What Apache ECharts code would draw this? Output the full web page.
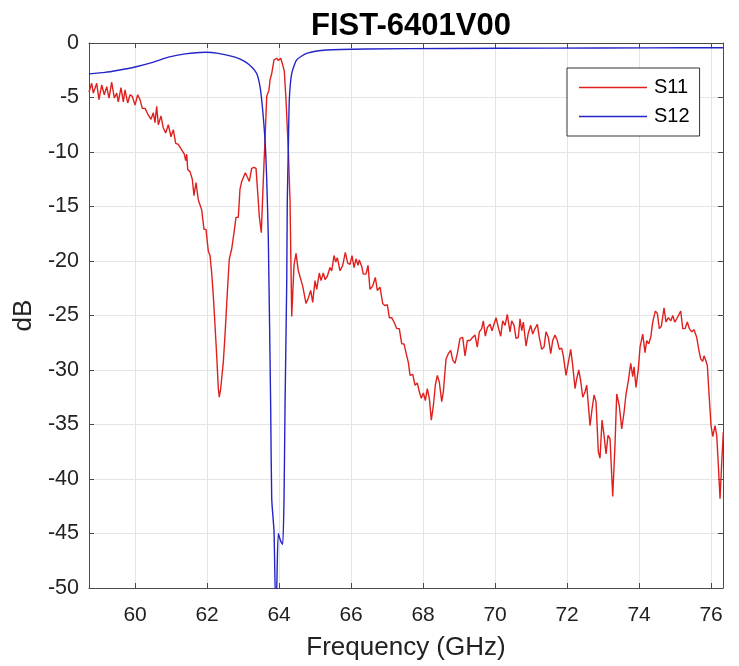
<!DOCTYPE html>
<html>
<head>
<meta charset="utf-8">
<script src="https://cdn.jsdelivr.net/npm/echarts@6/dist/echarts.min.js"></script>
<style>
html,body{margin:0;padding:0;background:#fff;}
#chart{width:739px;height:666px;}
</style>
</head>
<body>
<div id="chart"></div>
<script>
var xTicks = [60, 62, 64, 66, 68, 70, 72, 74, 76];
var freqS11 = [58.72,58.795,58.84,58.934,58.998,59.073,59.145,59.212,59.276,59.351,59.423,59.489,59.534,59.609,59.673,59.72,59.795,59.859,59.923,59.998,60.073,60.137,60.2,60.276,60.367,60.442,60.506,60.553,60.6,60.645,60.72,60.784,60.85,60.923,60.998,61.062,61.128,61.2,61.295,61.367,61.406,61.434,61.462,61.526,61.589,61.637,61.692,61.756,61.85,61.914,61.97,62.034,62.081,62.128,62.173,62.22,62.267,62.312,62.339,62.378,62.414,62.45,62.498,62.562,62.617,62.684,62.748,62.803,62.867,62.914,62.962,63.006,63.062,63.117,63.173,63.239,63.303,63.359,63.406,63.45,63.506,63.545,63.581,63.609,63.656,63.72,63.748,63.795,63.859,63.934,63.978,64.045,64.1,64.145,64.192,64.256,64.303,64.351,64.414,64.47,64.534,64.581,64.656,64.748,64.812,64.878,64.934,64.998,65.045,65.117,65.164,65.228,65.276,65.339,65.414,65.462,65.526,65.573,65.617,65.692,65.767,65.839,65.906,65.97,66.026,66.081,66.137,66.192,66.228,66.295,66.339,66.414,66.47,66.525,66.6,66.673,66.728,66.803,66.878,66.942,67.006,67.062,67.128,67.192,67.267,67.339,67.406,67.47,67.545,67.59,67.637,67.712,67.776,67.84,67.895,67.95,68.006,68.062,68.117,68.173,68.228,68.284,68.34,68.395,68.45,68.517,68.562,68.637,68.7,68.767,68.823,68.887,68.95,69.026,69.1,69.164,69.228,69.303,69.378,69.442,69.506,69.562,69.628,69.673,69.728,69.784,69.859,69.914,69.97,70.026,70.09,70.156,70.211,70.276,70.339,70.414,70.462,70.526,70.581,70.645,70.692,70.739,70.784,70.859,70.923,70.989,71.045,71.109,71.173,71.228,71.295,71.359,71.414,71.478,71.545,71.6,71.664,71.728,71.784,71.85,71.895,71.97,72.034,72.1,72.156,72.22,72.267,72.323,72.378,72.434,72.498,72.545,72.59,72.637,72.692,72.748,72.803,72.867,72.914,72.97,73.026,73.081,73.137,73.192,73.267,73.331,73.378,73.45,73.517,73.581,73.637,73.7,73.767,73.823,73.859,73.914,73.978,74.026,74.1,74.164,74.212,74.267,74.323,74.378,74.45,74.506,74.562,74.617,74.692,74.748,74.812,74.878,74.934,74.989,75.045,75.1,75.156,75.212,75.276,75.339,75.395,75.462,75.525,75.6,75.656,75.712,75.767,75.803,75.859,75.895,75.95,75.998,76.045,76.109,76.156,76.2,76.248,76.295,76.339];
var dbS11 = [-4.5,-3.7,-4.6,-3.7,-5.2,-3.85,-4.75,-4.0,-5.05,-3.6,-5.05,-4.6,-5.4,-4.1,-5.4,-4.3,-5.5,-4.75,-4.9,-5.7,-4.75,-5.2,-6.0,-6.0,-6.6,-7.0,-6.4,-7.3,-5.8,-7.5,-6.7,-7.8,-8.25,-7.5,-8.6,-7.95,-9.2,-9.3,-9.8,-10.2,-10.8,-10.2,-11.6,-11.8,-12.5,-14.0,-12.8,-14.4,-15.3,-17.1,-17.1,-19.1,-19.5,-21.1,-23.2,-25.9,-28.7,-31.7,-32.5,-31.7,-31.7,-29.3,-26.8,-22.9,-19.8,-18.9,-17.4,-16.0,-16.0,-13.4,-12.7,-12.6,-11.9,-12.3,-12.7,-11.5,-11.4,-11.5,-13.7,-15.9,-17.4,-14.0,-11.0,-8.9,-4.9,-4.3,-3.4,-2.8,-1.55,-1.4,-1.6,-1.4,-2.0,-2.6,-5.2,-9.8,-14.4,-25.1,-20.4,-19.3,-20.9,-20.8,-22.3,-23.9,-23.4,-22.7,-23.8,-21.8,-22.6,-21.1,-21.8,-21.1,-21.7,-21.4,-20.6,-20.9,-19.5,-20.1,-19.7,-20.9,-20.4,-19.2,-20.2,-20.3,-19.5,-20.6,-19.8,-20.4,-19.9,-20.5,-21.2,-21.2,-20.4,-22.6,-22.3,-21.5,-22.7,-22.4,-23.9,-24.1,-24.0,-25.2,-25.2,-25.6,-26.2,-26.2,-27.6,-27.6,-28.7,-29.3,-30.5,-30.4,-31.4,-31.2,-32.0,-32.6,-32.1,-32.8,-31.7,-32.6,-34.6,-33.3,-31.4,-30.5,-31.1,-32.9,-32.0,-29.0,-28.5,-28.2,-29.1,-29.4,-28.5,-27.1,-27.0,-28.7,-27.3,-27.3,-27.0,-26.8,-27.9,-26.5,-26.2,-25.5,-26.9,-26.1,-25.8,-26.4,-25.8,-25.2,-26.1,-26.9,-25.5,-25.9,-24.9,-26.5,-25.5,-25.9,-27.1,-27.0,-25.3,-26.4,-25.6,-27.8,-26.6,-25.9,-26.7,-26.2,-25.8,-27.0,-28.1,-27.9,-26.5,-27.0,-28.5,-27.3,-26.8,-27.3,-28.1,-28.0,-28.7,-30.5,-29.3,-28.1,-29.6,-31.7,-30.8,-30.0,-31.0,-32.5,-32.0,-31.4,-33.2,-35.1,-33.6,-32.3,-32.9,-37.5,-38.1,-34.6,-36.0,-37.7,-36.0,-36.3,-41.6,-36.8,-32.2,-33.3,-35.4,-33.9,-32.2,-31.0,-29.4,-30.6,-29.7,-31.6,-29.9,-27.9,-26.7,-28.4,-27.3,-27.6,-27.0,-25.6,-24.6,-24.8,-26.2,-26.0,-24.3,-25.6,-25.2,-25.5,-25.0,-25.6,-25.3,-25.2,-24.6,-26.2,-26.2,-25.6,-26.2,-26.5,-26.3,-27.0,-28.1,-29.0,-29.2,-28.7,-29.2,-29.6,-32.6,-35.1,-36.1,-35.1,-36.0,-38.7,-41.8,-38.5,-35.7];
var freqS12 = [58.72,59.164,59.534,59.998,60.462,60.923,61.387,61.942,62.312,62.776,63.053,63.239,63.378,63.47,63.534,63.609,63.656,63.701,63.767,63.795,63.859,63.9,63.93,63.978,64.045,64.1,64.137,64.164,64.212,64.228,64.256,64.284,64.35,64.489,64.767,65.323,66.434,68.75,71.53,74.3,76.33];
var dbS12 = [-2.83,-2.7,-2.5,-2.2,-1.8,-1.3,-1.0,-0.85,-0.95,-1.3,-1.7,-2.2,-2.8,-4.0,-5.8,-8.9,-12.5,-18,-33.5,-41.8,-44.8,-51,-50.5,-45.0,-45.7,-46.0,-41.8,-33.5,-22,-14.4,-9.8,-5.2,-2.8,-1.55,-0.95,-0.64,-0.55,-0.5,-0.47,-0.45,-0.43];

function pairs(xs, ys) { return xs.map(function (x, i) { return [x, ys[i]]; }); }

var AX = '#4a4a4a';
var FONT = 'Liberation Sans, Arial, sans-serif';
var chart = echarts.init(document.getElementById('chart'));
chart.setOption({
  animation: false,
  backgroundColor: '#fff',
  title: {
    text: 'FIST-6401V00', left: 406, top: 6, textAlign: 'center',
    textStyle: { fontFamily: FONT, fontSize: 31, fontWeight: 'bold', color: '#000' }
  },
  legend: {
    orient: 'vertical', left: 567, top: 68,
    icon: 'rect', itemWidth: 68, itemHeight: 1.3, itemGap: 6,
    padding: [8, 10, 8, 12],
    backgroundColor: '#fff', borderColor: '#333', borderWidth: 1,
    textStyle: { fontFamily: FONT, fontSize: 20, color: '#000', padding: [0, 0, 0, 2], lineHeight: 23 },
    data: ['S11', 'S12']
  },
  grid: { left: 89, right: 16, top: 43, bottom: 76, containLabel: false },
  xAxis: [{
    type: 'value', min: 58.72, max: 76.33,
    name: 'Frequency (GHz)', nameLocation: 'middle', nameGap: 47,
    nameTextStyle: { fontFamily: FONT, fontSize: 26, color: '#222' },
    axisLine: { show: true, onZero: false, lineStyle: { color: AX, width: 1 } },
    axisTick: { show: true, inside: true, length: 5, customValues: xTicks, lineStyle: { color: AX } },
    axisLabel: { customValues: xTicks, fontFamily: FONT, fontSize: 21, color: '#222', margin: 17 },
    splitLine: { show: true, lineStyle: { color: '#e4e4e4', width: 1 } }
  }, {
    type: 'value', min: 58.72, max: 76.33, position: 'top',
    axisLine: { show: true, onZero: false, lineStyle: { color: AX, width: 1 } },
    axisTick: { show: true, inside: true, length: 5, customValues: xTicks, lineStyle: { color: AX } },
    axisLabel: { show: false }, splitLine: { show: false }
  }],
  yAxis: [{
    type: 'value', min: -50, max: 0, interval: 5,
    name: 'dB', nameLocation: 'middle', nameGap: 49,
    nameTextStyle: { fontFamily: FONT, fontSize: 26, color: '#222' },
    axisLine: { show: true, onZero: false, lineStyle: { color: AX, width: 1 } },
    axisTick: { show: true, inside: true, length: 5, lineStyle: { color: AX } },
    axisLabel: { fontFamily: FONT, fontSize: 21.5, color: '#222', margin: 10 },
    splitLine: { show: true, lineStyle: { color: '#e4e4e4', width: 1 } }
  }, {
    type: 'value', min: -50, max: 0, interval: 5, position: 'right',
    axisLine: { show: true, onZero: false, lineStyle: { color: AX, width: 1 } },
    axisTick: { show: true, inside: true, length: 5, lineStyle: { color: AX } },
    axisLabel: { show: false }, splitLine: { show: false }
  }],
  series: [{
    name: 'S11', type: 'line', data: pairs(freqS11, dbS11),
    symbol: 'none', clip: true,
    lineStyle: { color: '#e0201e', width: 1.4 }, itemStyle: { color: '#e0201e' }
  }, {
    name: 'S12', type: 'line', data: pairs(freqS12, dbS12),
    symbol: 'none', clip: true, smooth: 0.2,
    lineStyle: { color: '#2424c8', width: 1.4 }, itemStyle: { color: '#2424c8' }
  }]
});
</script>
</body>
</html>
